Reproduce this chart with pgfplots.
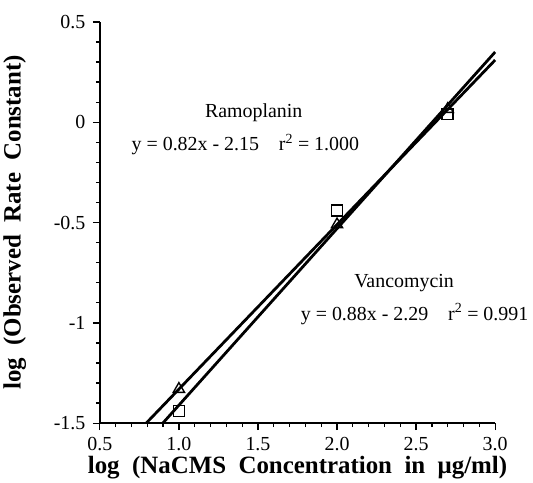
\documentclass[border=0pt]{standalone}
\usepackage{fontspec}
\setmainfont{Liberation Serif}
\usepackage{pgfplots}
\pgfplotsset{compat=1.18}
\begin{document}
\begin{tikzpicture}
\begin{axis}[
  scale only axis,
  width=397pt, height=403pt,
  xmin=0.5, xmax=3.0, ymin=-1.5, ymax=0.5,
  axis x line*=bottom, axis y line*=left,
  axis line style={-, line width=1.8pt},
  xtick={0.5,1.0,1.5,2.0,2.5,3.0},
  ytick={-1.5,-1,-0.5,0,0.5},
  minor x tick num=4, minor y tick num=4,
  tick align=outside,
  major tick length=7pt, minor tick length=4pt,
  every tick/.style={line width=1.3pt, black},
  /pgf/number format/assume math mode=true,
  xticklabel style={yshift=-4pt, /pgf/number format/.cd, fixed, fixed zerofill, precision=1},
  yticklabel style={xshift=-4pt, /pgf/number format/.cd, fixed},
  ticklabel style={font=\fontsize{20}{21}\selectfont},
  xlabel={\textbf{log\ \ (NaCMS\ \ Concentration\ \ in\ \ μg/ml)}},
  ylabel={\textbf{log\ \ (Observed\ \ Rate\ \ Constant)}},
  label style={font=\fontsize{25}{26}\selectfont},
  xlabel style={yshift=2pt},
  ylabel style={yshift=21pt},
  clip=false,
]
\addplot[black, line width=2.8pt] coordinates {(0.793,-1.5) (3.0,0.31)};
\addplot[black, line width=2.8pt] coordinates {(0.898,-1.5) (3.0,0.35)};
\addplot[only marks, mark=triangle, mark size=6.5pt, mark options={line width=1.4pt, fill=white}] coordinates {(1.0,-1.33) (2.0,-0.51) (2.7,0.065)};
\addplot[only marks, mark=square, mark size=5.5pt, mark options={line width=1.6pt, fill=white}] coordinates {(1.0,-1.44) (2.0,-0.44) (2.7,0.04)};
\node[font=\fontsize{20}{21}\selectfont] at (axis cs:1.473,0.045) {Ramoplanin};
\node[font=\fontsize{20}{21}\selectfont, anchor=west, inner sep=0pt] at (axis cs:0.70,-0.11) {y = 0.82x - 2.15 \ \ \ r\textsuperscript{2} = 1.000};
\node[font=\fontsize{20}{21}\selectfont] at (axis cs:2.424,-0.80) {Vancomycin};
\node[font=\fontsize{20}{21}\selectfont, anchor=west, inner sep=0pt] at (axis cs:1.77,-0.955) {y = 0.88x - 2.29 \ \ \ r\textsuperscript{2} = 0.991};
\end{axis}
\path (current axis.north) ++(0,22pt);
\path (current axis.south east) ++(38pt,0);
\end{tikzpicture}
\end{document}
